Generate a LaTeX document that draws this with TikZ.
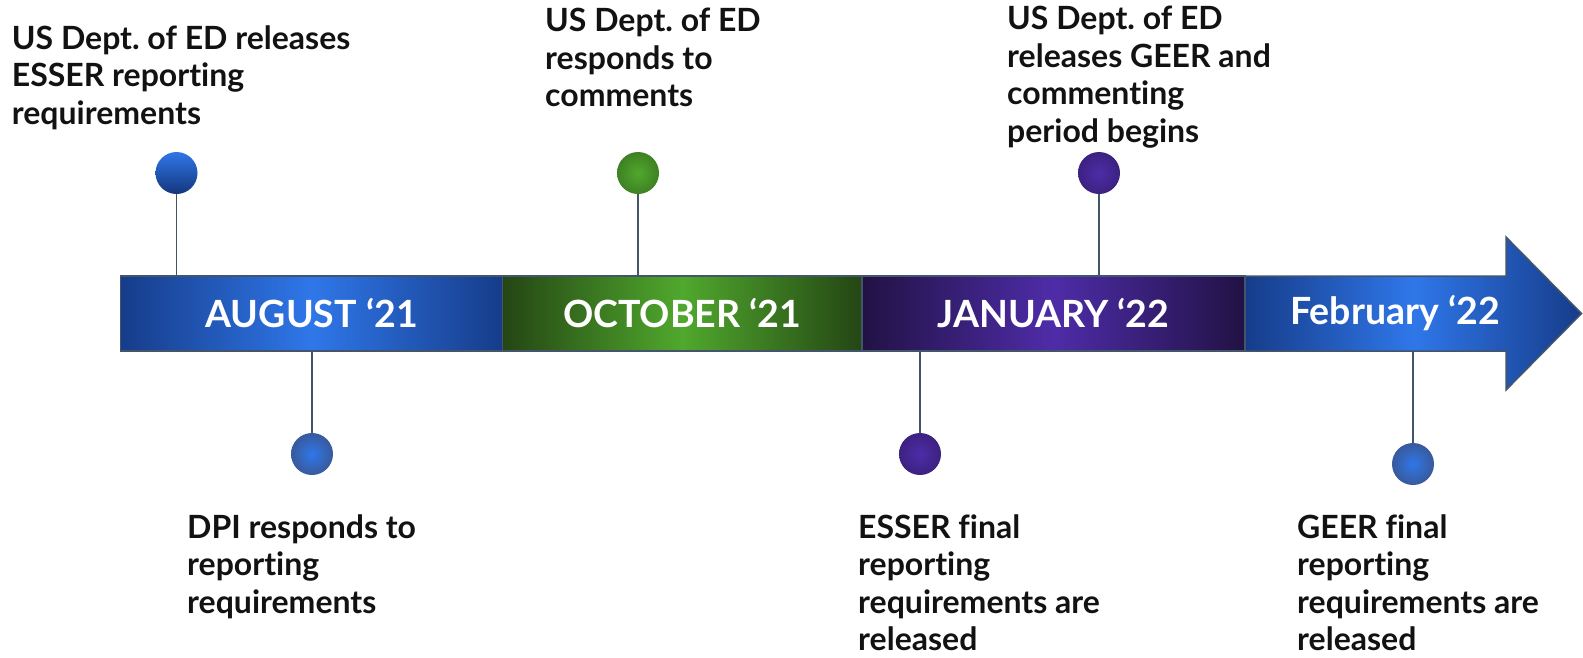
\documentclass[tikz,border=0pt]{standalone}
\usepackage{fontspec}
\setmainfont{Lato}[Ligatures={NoCommon}]
\definecolor{blueD}{RGB}{22,60,138}
\definecolor{blueL}{RGB}{47,119,233}
\definecolor{greenD}{RGB}{36,70,20}
\definecolor{greenL}{RGB}{80,168,45}
\definecolor{purpD}{RGB}{33,18,68}
\definecolor{purpL}{RGB}{78,44,168}
\definecolor{lineC}{RGB}{68,84,106}
\newcommand\mylines[1]{\parbox[t]{420pt}{\raggedright #1}}
\frenchspacing
\begin{document}
\begin{tikzpicture}[x=1pt,y=-1pt,
  seg/.style={draw=lineC, line width=1.5pt, minimum height=75pt, inner sep=0pt,
    text=white, font=\fontsize{37.5}{40}\selectfont\bfseries},
  dot/.style={circle, minimum size=42pt, inner sep=0pt, draw=none},
  note/.style={anchor=base west, inner sep=0pt, text=black!93,
    font=\fontsize{32}{37.5}\selectfont\bfseries},
  conn/.style={draw=lineC, line width=1.6pt}]
\useasboundingbox (0,0) rectangle (1583,657);

% bar segments
\node[seg, minimum width=382pt, left color=blueD, right color=blueD, middle color=blueL] (aug) at (311.7,313.5) {AUGUST ‘21};
\node[seg, minimum width=359pt, left color=greenD, right color=greenD, middle color=greenL] (oct) at (682.2,313.5) {OCTOBER ‘21};
\node[seg, minimum width=383.3pt, left color=purpD, right color=purpD, middle color=purpL] (jan) at (1053.4,313.5) {JANUARY ‘22};
% arrow
\shadedraw[draw=lineC, line width=1.5pt, left color=blueD, right color=blueD, middle color=blueL]
  (1245,276) -- (1506,276) -- (1506,237) -- (1581.5,313.5) -- (1506,390) -- (1506,351) -- (1245,351) -- cycle;
\node[text=white, font=\fontsize{37.5}{40}\selectfont\bfseries, inner sep=0pt] (feb) at (1395,313.5) {February ‘22};
\coordinate (febbot) at (1413,351);

% dots
\node[dot, top color=blueL, bottom color=blueD!90!black] (d1) at (176.5,173) {};
\node[dot, inner color=blueL, outer color=blueD!85] (d2) at (312,454) {};
\node[dot, inner color=greenL, outer color=greenL!60!greenD] (d3) at (638,173) {};
\node[dot, inner color=purpL, outer color=purpL!60!purpD] (d4) at (1099,173) {};
\node[dot, inner color=purpL, outer color=purpL!60!purpD] (d5) at (920,454) {};
\node[dot, inner color=blueL, outer color=blueD!85] (d6) at (1413,464) {};

% connectors
\draw[conn] (d1.south) -- (d1.south |- aug.north);
\draw[conn] (d2.north) -- (d2.north |- aug.south);
\draw[conn] (d3.south) -- (d3.south |- oct.north);
\draw[conn] (d4.south) -- (d4.south |- jan.north);
\draw[conn] (d5.north) -- (d5.north |- jan.south);
\draw[conn] (d6.north) -- (febbot);

% notes
\node[note] (n1) at (11.7,49) {\mylines{US Dept. of ED releases\\ESSER reporting\\requirements}};
\node[note] (n2) at (545,31.5) {\mylines{US Dept. of ED\\responds to\\comments}};
\node[note] (n3) at (1007,29.5) {\mylines{US Dept. of ED\\releases GEER and\\commenting\\period begins}};
\node[note] (n4) at (187,538) {\mylines{DPI responds to\\reporting\\requirements}};
\node[note] (n5) at (858,538) {\mylines{ESSER final\\reporting\\requirements are\\released}};
\node[note] (n6) at (1297,538) {\mylines{GEER final\\reporting\\requirements are\\released}};
\end{tikzpicture}
\end{document}
